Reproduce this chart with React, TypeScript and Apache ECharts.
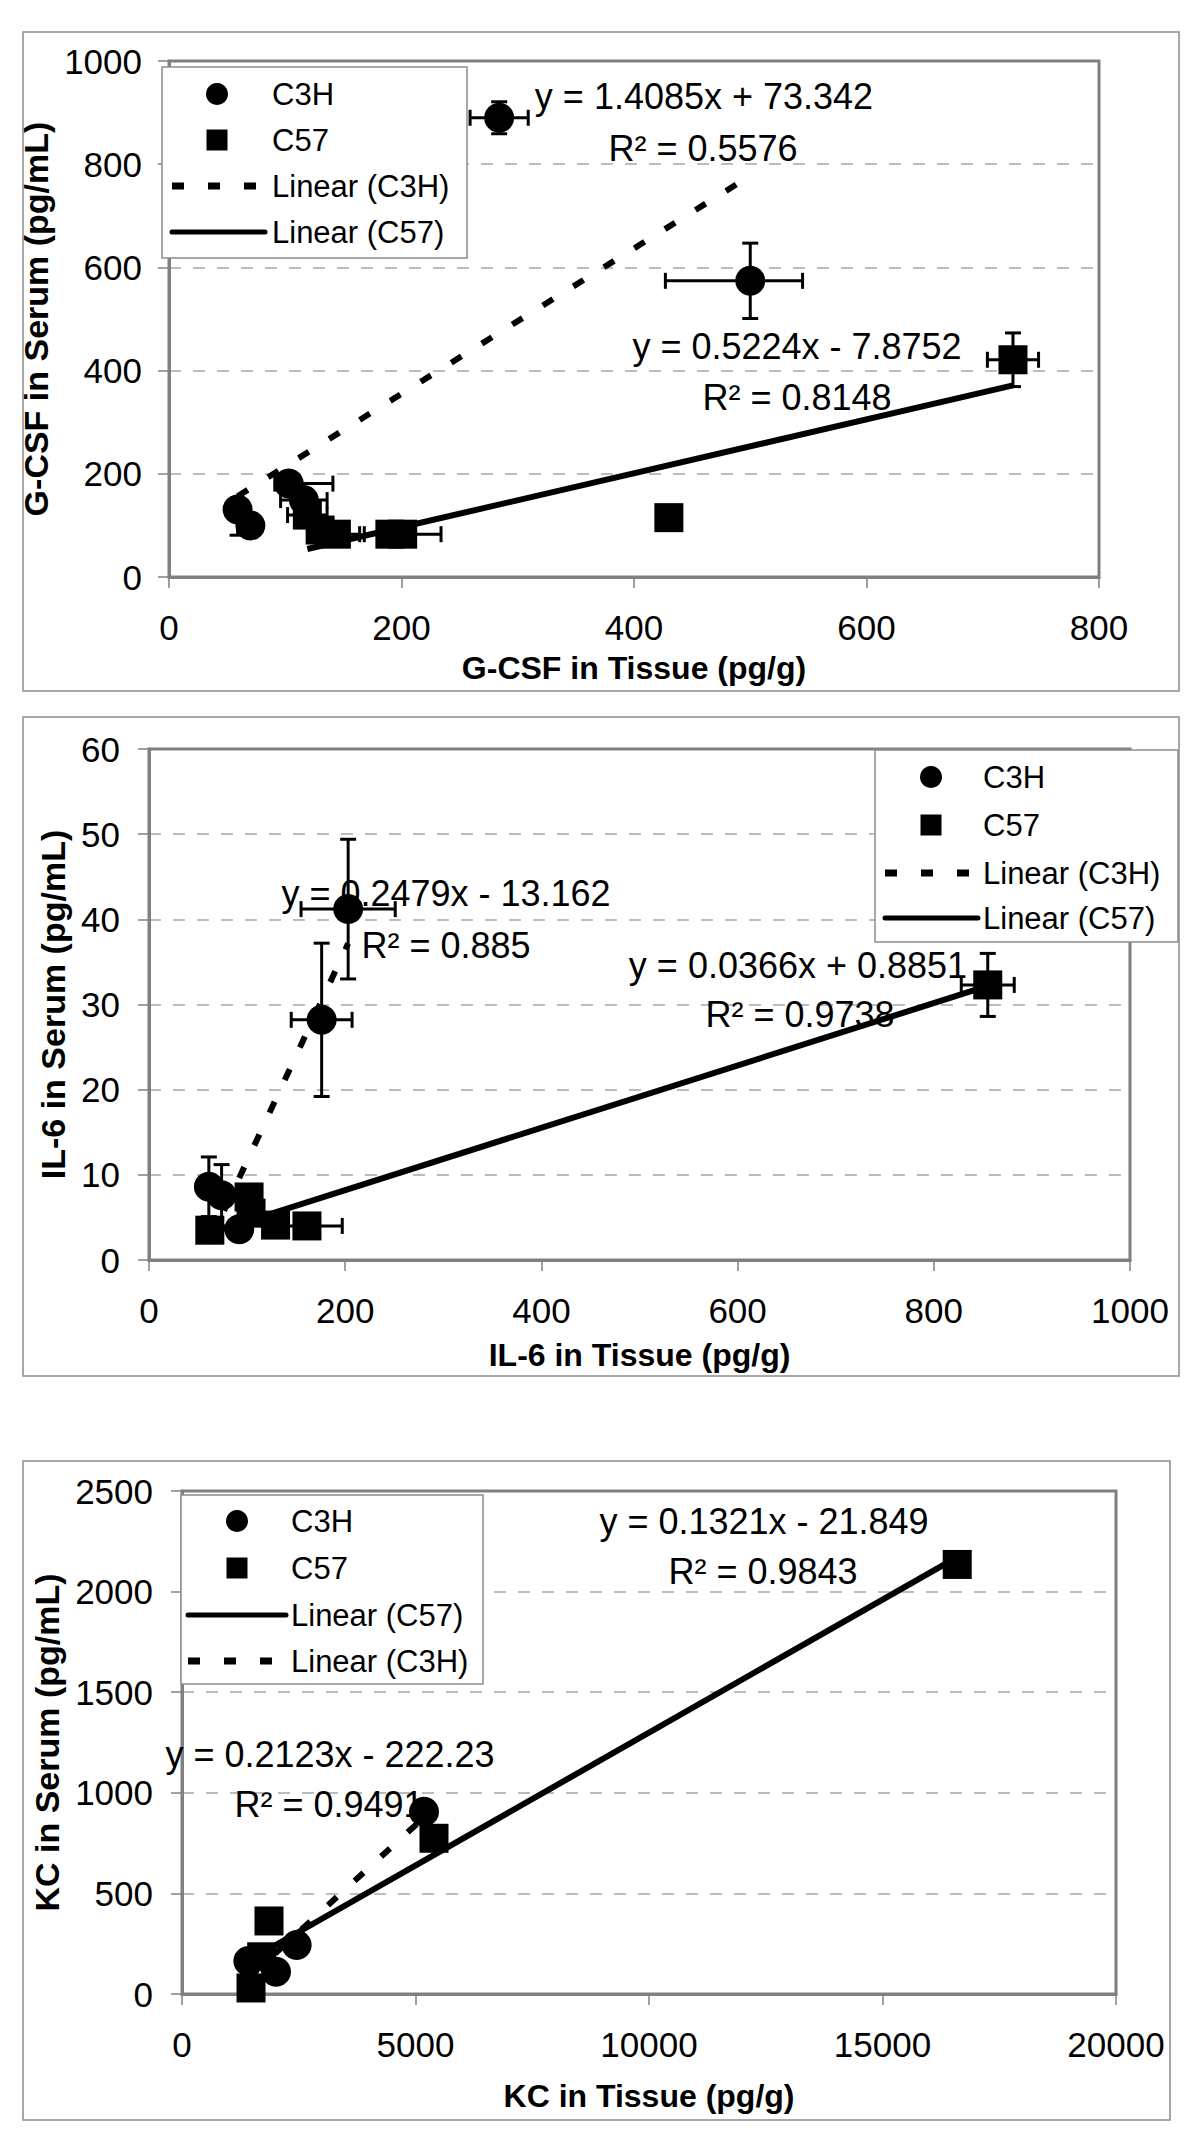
import React, { useEffect, useRef } from "react";
import * as echarts from "echarts";

// ---------- DATA ----------
// each point: [x, y, xMinus, xPlus, yMinus, yPlus]
const gcsfC3H = [
  [59, 131, 0, 0, 50, 10],
  [70, 100, 0, 0, 0, 0],
  [103, 181, 12, 38, 0, 0],
  [116, 149, 20, 20, 0, 0],
  [284, 890, 25, 25, 31, 31],
  [500, 574, 73, 45, 73, 73],
];
const gcsfC57 = [
  [119, 120, 17, 17, 0, 0],
  [130, 91, 0, 0, 0, 0],
  [144, 83, 20, 20, 0, 0],
  [190, 83, 0, 0, 0, 0],
  [201, 83, 33, 33, 0, 0],
  [430, 115, 0, 0, 0, 0],
  [726, 421, 22, 22, 52, 52],
];
const gcsfFitC3H = [1.4085, 73.342];
const gcsfFitC57 = [0.5224, -7.8752];

const il6C3H = [
  [61, 8.6, 0, 0, 3.5, 3.5],
  [74, 7.6, 0, 0, 3.6, 3.6],
  [92, 3.6, 0, 0, 0, 0],
  [176, 28.2, 31, 31, 9, 9],
  [203, 41.2, 48, 48, 8.2, 8.2],
];
const il6C57 = [
  [62, 3.5, 0, 0, 0, 0],
  [102, 7.4, 0, 0, 0, 0],
  [104, 5.5, 0, 0, 0, 0],
  [129, 4.1, 0, 0, 0, 0],
  [161, 4.0, 36, 36, 0, 0],
  [855, 32.3, 27, 27, 3.7, 3.7],
];
const il6FitC3H = [0.2479, -13.162];
const il6FitC57 = [0.0366, 0.8851];

const kcC3H = [
  [1420, 164, 0, 0, 0, 0],
  [2013, 111, 0, 0, 0, 0],
  [2456, 243, 0, 0, 0, 0],
  [5182, 906, 0, 0, 0, 0],
];
const kcC57 = [
  [1478, 30, 0, 0, 0, 0],
  [1706, 185, 0, 0, 0, 0],
  [1863, 363, 0, 0, 0, 0],
  [5396, 774, 0, 0, 0, 0],
  [16600, 2135, 0, 0, 0, 0],
];
const kcFitC3H = [0.2123, -222.23];
const kcFitC57 = [0.1321, -21.849];

const xTitles = ["G-CSF in Tissue (pg/g)", "IL-6 in Tissue (pg/g)", "KC in Tissue (pg/g)"];
const yTitles = ["G-CSF in Serum (pg/mL)", "IL-6 in Serum (pg/mL)", "KC in Serum (pg/mL)"];
const xRanges = [[0, 800, 200], [0, 1000, 200], [0, 20000, 5000]];
const yRanges = [[0, 1000, 200], [0, 60, 10], [0, 2500, 500]];

const equations = [
  ["y = 1.4085x + 73.342", "R² = 0.5576", "y = 0.5224x - 7.8752", "R² = 0.8148"],
  ["y = 0.2479x - 13.162", "R² = 0.885", "y = 0.0366x + 0.8851", "R² = 0.9738"],
  ["y = 0.1321x - 21.849", "R² = 0.9843", "y = 0.2123x - 222.23", "R² = 0.9491"],
];
const legendOrders = [
  ["C3H", "C57", "Linear (C3H)", "Linear (C57)"],
  ["C3H", "C57", "Linear (C3H)", "Linear (C57)"],
  ["C3H", "C57", "Linear (C57)", "Linear (C3H)"],
];

// ---------- LAYOUT ----------
const FONT = '"Liberation Sans", Arial, Helvetica, sans-serif';
const GRIDS = [
  { left: 169, top: 61, width: 930, height: 516 },
  { left: 149, top: 749, width: 981, height: 511 },
  { left: 182, top: 1491, width: 934, height: 503 },
];
const OUTER = [
  { x: 23, y: 32, w: 1156, h: 659 },
  { x: 23, y: 717, w: 1156, h: 659 },
  { x: 23, y: 1461, w: 1147, h: 659 },
];
const X_NAME_GAP = [75, 79, 86];
const Y_NAME_GAP = [97, 77, 110];
const Y_LABEL_MARGIN = [27, 29, 29];
const EQ_POS = [
  [[704, 96], [703, 148], [797, 346], [797, 397]],
  [[446, 893], [446, 945], [798, 965], [800, 1014]],
  [[764, 1521], [763, 1571], [330, 1754], [329, 1804]],
];
const LEGEND_BOX = [
  { x: 162, y: 67, w: 305, h: 191, rows: [94, 140, 186, 232], mx: 217, l1: 172, l2: 265, tx: 272 },
  { x: 875, y: 750, w: 303, h: 192, rows: [777, 825, 873, 918], mx: 931, l1: 885, l2: 978, tx: 983 },
  { x: 181, y: 1495, w: 302, h: 189, rows: [1521, 1568, 1615, 1661], mx: 237, l1: 188, l2: 286, tx: 291 },
];

const DASH = [12, 24];

function errRender(params: any, api: any) {
  const x = api.value(0);
  const y = api.value(1);
  const xm = api.value(2);
  const xp = api.value(3);
  const ym = api.value(4);
  const yp = api.value(5);
  const c = api.coord([x, y]);
  const style = { stroke: "#000", lineWidth: 3 };
  const cap = 8;
  const children: any[] = [];
  if (xm > 0 || xp > 0) {
    const l = api.coord([x - xm, y]);
    const r = api.coord([x + xp, y]);
    children.push({ type: "line", shape: { x1: l[0], y1: c[1], x2: r[0], y2: c[1] }, style });
    if (xm > 0) children.push({ type: "line", shape: { x1: l[0], y1: c[1] - cap, x2: l[0], y2: c[1] + cap }, style });
    if (xp > 0) children.push({ type: "line", shape: { x1: r[0], y1: c[1] - cap, x2: r[0], y2: c[1] + cap }, style });
  }
  if (ym > 0 || yp > 0) {
    const b = api.coord([x, y - ym]);
    const t = api.coord([x, y + yp]);
    children.push({ type: "line", shape: { x1: c[0], y1: b[1], x2: c[0], y2: t[1] }, style });
    if (ym > 0) children.push({ type: "line", shape: { x1: c[0] - cap, y1: b[1], x2: c[0] + cap, y2: b[1] }, style });
    if (yp > 0) children.push({ type: "line", shape: { x1: c[0] - cap, y1: t[1], x2: c[0] + cap, y2: t[1] }, style });
  }
  return { type: "group", children };
}

function fitLine(data: number[][], fit: number[]) {
  const xs = data.map((d) => d[0]);
  const x1 = Math.min(...xs);
  const x2 = Math.max(...xs);
  return [
    [x1, fit[0] * x1 + fit[1]],
    [x2, fit[0] * x2 + fit[1]],
  ];
}

const plain = (v: number) => String(v);

export default function App() {
  const ref = useRef<HTMLDivElement>(null);

  useEffect(() => {
    if (!ref.current) return;
    const chart = echarts.init(ref.current, null, { renderer: "svg" });

    const panels = [
      { c3h: gcsfC3H, c57: gcsfC57, f3: gcsfFitC3H, f5: gcsfFitC57 },
      { c3h: il6C3H, c57: il6C57, f3: il6FitC3H, f5: il6FitC57 },
      { c3h: kcC3H, c57: kcC57, f3: kcFitC3H, f5: kcFitC57 },
    ];

    const grid = GRIDS.map((g) => ({ ...g, show: false, containLabel: false }));

    const xAxis = xRanges.map((r, i) => ({
      gridIndex: i,
      type: "value",
      min: r[0],
      max: r[1],
      interval: r[2],
      name: xTitles[i],
      nameLocation: "middle",
      nameGap: X_NAME_GAP[i],
      nameTextStyle: { fontSize: 32, fontWeight: "bold", color: "#000", fontFamily: FONT },
      axisLine: { show: true, onZero: false, lineStyle: { color: "#808080", width: 3 } },
      axisTick: { show: true, inside: false, length: 11, lineStyle: { color: "#808080", width: 1.5 } },
      axisLabel: { color: "#000", fontSize: 35, fontFamily: FONT, margin: 33, formatter: plain },
      splitLine: { show: false },
    }));

    const yAxis = yRanges.map((r, i) => ({
      gridIndex: i,
      type: "value",
      min: r[0],
      max: r[1],
      interval: r[2],
      name: yTitles[i],
      nameLocation: "middle",
      nameGap: Y_NAME_GAP[i],
      nameTextStyle: { fontSize: 34, fontWeight: "bold", color: "#000", fontFamily: FONT },
      axisLine: { show: true, onZero: false, lineStyle: { color: "#808080", width: 3 } },
      axisTick: { show: true, inside: false, length: 11, lineStyle: { color: "#808080", width: 1.5 } },
      axisLabel: { color: "#000", fontSize: 35, fontFamily: FONT, margin: Y_LABEL_MARGIN[i], formatter: plain },
      splitLine: { show: true, lineStyle: { color: "#a6a6a6", width: 1.5, type: [12, 12] } },
    }));

    const series: any[] = [];
    panels.forEach((p, i) => {
      series.push({
        type: "line",
        name: "Linear (C3H)",
        xAxisIndex: i,
        yAxisIndex: i,
        data: fitLine(p.c3h, p.f3),
        symbol: "none",
        lineStyle: { color: "#000", width: 6, type: DASH, cap: "butt", opacity: 1 },
        z: 3,
      });
      series.push({
        type: "line",
        name: "Linear (C57)",
        xAxisIndex: i,
        yAxisIndex: i,
        data: fitLine(p.c57, p.f5),
        symbol: "none",
        lineStyle: { color: "#000", width: 6, type: "solid", opacity: 1 },
        z: 3,
      });
      [p.c3h, p.c57].forEach((d) => {
        series.push({
          type: "custom",
          xAxisIndex: i,
          yAxisIndex: i,
          renderItem: errRender,
          data: d,
          encode: { x: 0, y: 1 },
          z: 4,
          silent: true,
        });
      });
      series.push({
        type: "scatter",
        name: "C3H",
        xAxisIndex: i,
        yAxisIndex: i,
        data: p.c3h.map((d) => [d[0], d[1]]),
        symbol: "circle",
        symbolSize: 30,
        itemStyle: { color: "#000", opacity: 1 },
        z: 5,
      });
      series.push({
        type: "scatter",
        name: "C57",
        xAxisIndex: i,
        yAxisIndex: i,
        data: p.c57.map((d) => [d[0], d[1]]),
        symbol: "rect",
        symbolSize: 29,
        itemStyle: { color: "#000", opacity: 1 },
        z: 5,
      });
    });

    const graphic: any[] = [];
    OUTER.forEach((o) => {
      graphic.push({
        type: "rect",
        shape: { x: o.x, y: o.y, width: o.w, height: o.h },
        style: { fill: "none", stroke: "#8c8c8c", lineWidth: 1.5 },
        z: 0,
        silent: true,
      });
    });
    GRIDS.forEach((g) => {
      graphic.push({
        type: "rect",
        shape: { x: g.left, y: g.top, width: g.width, height: g.height },
        style: { fill: "none", stroke: "#808080", lineWidth: 3 },
        z: 1,
        silent: true,
      });
    });
    equations.forEach((eqs, i) => {
      eqs.forEach((t, j) => {
        graphic.push({
          type: "text",
          x: EQ_POS[i][j][0],
          y: EQ_POS[i][j][1],
          z: 1,
          silent: true,
          style: {
            text: t,
            fontSize: 36,
            fontFamily: FONT,
            fill: "#000",
            textAlign: "center",
            textVerticalAlign: "middle",
          },
        });
      });
    });
    LEGEND_BOX.forEach((L, i) => {
      graphic.push({
        type: "rect",
        shape: { x: L.x, y: L.y, width: L.w, height: L.h },
        style: { fill: "#fff", stroke: "#8c8c8c", lineWidth: 1.5 },
        z: 100,
        silent: true,
      });
      legendOrders[i].forEach((name, j) => {
        const cy = L.rows[j];
        if (name === "C3H") {
          graphic.push({ type: "circle", shape: { cx: L.mx, cy, r: 11 }, style: { fill: "#000" }, z: 101, silent: true });
        } else if (name === "C57") {
          graphic.push({ type: "rect", shape: { x: L.mx - 10.5, y: cy - 10.5, width: 21, height: 21 }, style: { fill: "#000" }, z: 101, silent: true });
        } else if (name === "Linear (C3H)") {
          graphic.push({
            type: "line",
            shape: { x1: L.l1, y1: cy, x2: L.l2, y2: cy },
            style: { stroke: "#000", lineWidth: 7, lineDash: DASH, lineCap: "butt" },
            z: 101,
            silent: true,
          });
        } else {
          graphic.push({
            type: "line",
            shape: { x1: L.l1, y1: cy, x2: L.l2, y2: cy },
            style: { stroke: "#000", lineWidth: 5, lineCap: "round" },
            z: 101,
            silent: true,
          });
        }
        graphic.push({
          type: "text",
          x: L.tx,
          y: cy,
          z: 101,
          silent: true,
          style: {
            text: name,
            fontSize: 31,
            fontFamily: FONT,
            fill: "#000",
            textAlign: "left",
            textVerticalAlign: "middle",
          },
        });
      });
    });

    chart.setOption({
      animation: false,
      backgroundColor: "#fff",
      grid,
      xAxis,
      yAxis,
      series,
      graphic,
    });

    return () => {
      chart.dispose();
    };
  }, []);

  return (
    <div
      ref={ref}
      style={{ position: "absolute", left: 0, top: 0, width: 1200, height: 2141, background: "#fff" }}
    />
  );
}
